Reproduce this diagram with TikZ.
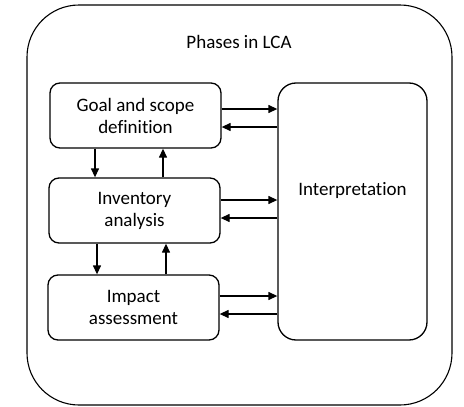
\documentclass[tikz,border=0pt]{standalone}
\usepackage{fontspec}
\setmainfont[Ligatures=NoCommon]{Carlito}
\usetikzlibrary{calc}
\usetikzlibrary{arrows.meta}

\tikzset{
  phase/.style={draw,line width=1.3pt,rounded corners=10pt,align=center,
    inner sep=0pt,minimum width=171pt,minimum height=65pt},
  flow/.style={line width=1.3pt,-{Triangle[length=9pt,width=8pt]}}
}

\begin{document}
\begin{tikzpicture}[x=1pt,y=-1pt,font=\fontsize{19}{22}\selectfont]

\useasboundingbox (0,0) rectangle (464,407);

% outer frame
\draw[line width=1.1pt,rounded corners=52pt] (27,5) rectangle (452,405);
\node (title) at (239,42) {Phases in LCA};

% phases
\node[phase] (goal) at (135.5,115.5) {Goal and scope\\definition};
\node[phase] (inv) at (134.5,210.5) {Inventory\\analysis};
\node[phase] (impact) at (133.5,307.5) {Impact\\assessment};
\node[phase,rounded corners=18pt,minimum width=149pt,minimum height=257pt,
  label={[yshift=21pt]center:Interpretation}] (interp) at (352.5,211.5) {};

% links to interpretation
\draw[flow] ($(goal.east)+(0,-6.5)$) -- ($(goal.east -| interp.west)+(0,-6.5)$);
\draw[flow] ($(goal.east -| interp.west)+(0,11.5)$) -- ($(goal.east)+(0,11.5)$);
\draw[flow] ($(inv.east)+(0,-10.5)$) -- ($(inv.east -| interp.west)+(0,-10.5)$);
\draw[flow] ($(inv.east -| interp.west)+(0,7.5)$) -- ($(inv.east)+(0,7.5)$);
\draw[flow] ($(impact.east)+(0,-11.5)$) -- ($(impact.east -| interp.west)+(0,-11.5)$);
\draw[flow] ($(impact.east -| interp.west)+(0,6.5)$) -- ($(impact.east)+(0,6.5)$);

% up and down between phases
\draw[flow] ($(goal.south)+(-40.5,0)$) -- ($(inv.north)+(-39.5,0)$);
\draw[flow] ($(inv.north)+(28.5,0)$) -- ($(goal.south)+(27.5,0)$);
\draw[flow] ($(inv.south)+(-37.5,0)$) -- ($(impact.north)+(-36.5,0)$);
\draw[flow] ($(impact.north)+(32.5,0)$) -- ($(inv.south)+(31.5,0)$);

\end{tikzpicture}
\end{document}
